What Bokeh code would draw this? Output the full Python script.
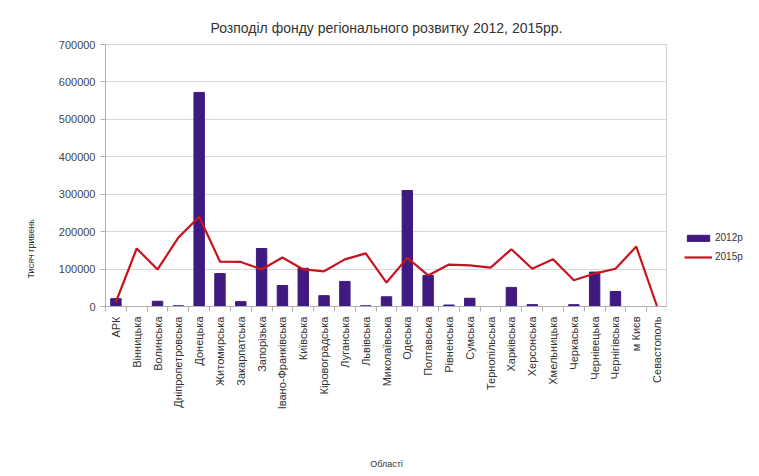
import math
from bokeh.plotting import figure
from bokeh.layouts import row
from bokeh.models import FixedTicker, Legend, LegendItem, Title, Range1d, ColumnDataSource
from bokeh.embed import file_html
from bokeh.resources import INLINE

regions = ["АРК", "Вінницька", "Волинська", "Дніпропетровська", "Донецька", "Житомирська",
           "Закарпатська", "Запорізька", "Івано-Франківська", "Київська", "Кіровоградська",
           "Луганська", "Львівська", "Миколаївська", "Одеська", "Полтавська", "Рівненська",
           "Сумська", "Тернопільська", "Харківська", "Херсонська", "Хмельницька", "Черкаська",
           "Чернівецька", "Чернігівська", "м Києв", "Севастополь"]
fund_2012 = [21000, 0, 14000, 2000, 572000, 88000, 13000, 155000, 56000, 102000, 29000,
             67000, 2000, 26000, 310000, 83000, 4000, 22000, 0, 51000, 5000, 0, 5000,
             92000, 40000, 0, 0]
fund_2015 = [12000, 155000, 99000, 184000, 240000, 120000, 119000, 99000, 131000, 99000, 94000,
             126000, 142000, 64000, 130000, 83000, 112000, 110000, 104000, 153000, 101000,
             126000, 70000, 88000, 101000, 160000, 0]
series_names = ["2012р", "2015р"]
y_ticks = [0, 100000, 200000, 300000, 400000, 500000, 600000, 700000]

FONT = "Liberation Sans"
BAR_COLOR = "#3f1a80"
LINE_COLOR = "#c8141e"
n = len(regions)
xc = [i + 0.5 for i in range(n)]
src = ColumnDataSource(dict(x=xc, v12=fund_2012, v15=fund_2015))

H = 472
MAIN_W = 667
p = figure(width=MAIN_W, height=H, output_backend="svg", toolbar_location=None,
           x_range=Range1d(0, n), y_range=Range1d(0, 700000),
           min_border_left=105, min_border_right=0, min_border_top=44,
           min_border_bottom=H - 306)
p.title.text = "Розподіл фонду регіонального розвитку 2012, 2015рр."
p.title.align = "center"
p.title.text_font = FONT
p.title.text_font_size = "14px"
p.title.text_font_style = "normal"
p.title.text_color = "#333333"
p.title.standoff = 18
p.outline_line_color = "#d0d0d0"

bars = p.vbar(x="x", top="v12", width=0.5, bottom=0, source=src,
              fill_color=BAR_COLOR, line_color=BAR_COLOR)
line = p.line(x="x", y="v15", source=src, line_color=LINE_COLOR, line_width=2.2)

# axes
xa = p.xaxis[0]
xa.ticker = FixedTicker(ticks=xc, minor_ticks=list(range(n + 1)))
xa.major_label_overrides = {x: r for x, r in zip(xc, regions)}
xa.major_label_orientation = math.pi / 2
xa.major_tick_line_color = None
xa.minor_tick_out = 5
xa.minor_tick_in = 0
xa.minor_tick_line_color = "#b0b0b0"
xa.axis_line_color = "#b0b0b0"
xa.major_label_text_font = FONT
xa.major_label_text_font_size = "11px"
xa.major_label_text_color = "#333333"
xa.major_label_standoff = 4
xa.axis_label = "Області"
xa.axis_label_text_font = FONT
xa.axis_label_text_font_size = "9px"
xa.axis_label_text_font_style = "normal"
xa.axis_label_text_color = "#333333"
xa.axis_label_standoff = 47

ya = p.yaxis[0]
ya.ticker = FixedTicker(ticks=y_ticks)
ya.minor_tick_line_color = None
ya.major_tick_out = 5
ya.major_tick_in = 0
ya.major_tick_line_color = "#b0b0b0"
ya.axis_line_color = "#b0b0b0"
ya.major_label_text_font = FONT
ya.major_label_text_font_size = "11px"
ya.major_label_text_color = "#444444"
ya.formatter.use_scientific = False

p.xgrid.grid_line_color = None
p.ygrid.grid_line_color = "#d8d8d8"
p.ygrid.grid_line_width = 1

ylab = Title(text="Тисяч гривень", align="left", offset=28, standoff=40,
             text_font=FONT, text_font_size="9px", text_font_style="normal",
             text_color="#333333")
p.add_layout(ylab, "left")

# legend panel on the right (its frame is aligned with the main frame)
lg = figure(width=88, height=H, output_backend="svg", toolbar_location=None,
            x_range=Range1d(-1000, -999), y_range=Range1d(-1000, -999), min_border=0)
lg.axis.visible = False
lg.grid.visible = False
lg.outline_line_color = None
lbar = lg.vbar(x="x", top="v12", width=0.5, source=src,
               fill_color=BAR_COLOR, line_color=BAR_COLOR)
lline = lg.line(x="x", y="v15", source=src, line_color=LINE_COLOR, line_width=2.2)
legend = Legend(items=[LegendItem(label=series_names[0], renderers=[lbar]),
                       LegendItem(label=series_names[1], renderers=[lline])],
                location=(17, 44), border_line_color=None, background_fill_alpha=0,
                glyph_width=28, glyph_height=8, label_text_font=FONT,
                label_text_font_size="10px", label_text_color="#333333",
                spacing=8, padding=2, label_standoff=3, margin=0)
lg.add_layout(legend)

layout = row(p, lg, spacing=0)
open("out.html", "w").write(file_html(layout, INLINE))
